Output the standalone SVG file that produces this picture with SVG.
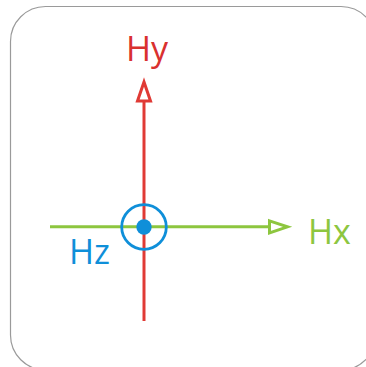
<svg xmlns="http://www.w3.org/2000/svg" width="366" height="367" viewBox="0 0 366 367">
<style>
.lbl{font-family:"Open Sans","Liberation Sans",sans-serif;font-size:34px}
</style>
<rect x="0" y="0" width="366" height="367" fill="#fff"/>
<g id="frame"><rect x="10.5" y="6.5" width="365.5" height="363.5" rx="35" fill="#fff" stroke="#9a9a9a" stroke-width="1.2"/></g>
<g id="connectors">
<line x1="50" y1="226.8" x2="270" y2="226.8" stroke="#8dc63f" stroke-width="3"/>
<polygon points="269.5,220.8 287.5,226.8 269.5,232.8" fill="#fff" stroke="#8dc63f" stroke-width="3"/>
<line x1="144" y1="321" x2="144" y2="101" stroke="#e03a35" stroke-width="3"/>
<polygon points="137.5,101 144,82 150.5,101" fill="#fff" stroke="#e03a35" stroke-width="3"/>
</g>
<g id="hz-node">
<circle cx="144" cy="227" r="22.3" fill="none" stroke="#0f8fd9" stroke-width="2.8"/>
<circle cx="144" cy="227" r="7.7" fill="#0f8fd9"/>
</g>
<g id="hy"><text class="lbl" x="126" y="61" fill="#d9312f">Hy</text></g>
<g id="hx"><text class="lbl" x="308" y="244" fill="#8dc63f">Hx</text></g>
<g id="hz"><text class="lbl" x="69" y="264" fill="#0f8fd9">Hz</text></g>
</svg>
